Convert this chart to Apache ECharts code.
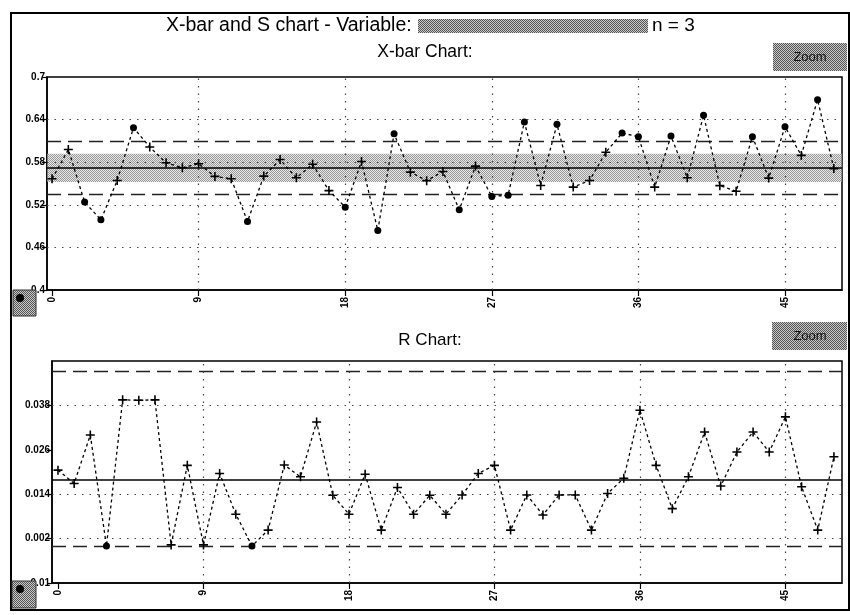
<!DOCTYPE html>
<html>
<head>
<meta charset="utf-8">
<script src="https://cdn.jsdelivr.net/npm/echarts@6/dist/echarts.min.js"></script>
<style>
  html, body { margin: 0; padding: 0; background: #fff; }
  #chart { width: 850px; height: 615px; }
</style>
</head>
<body>
<div id="chart"></div>
<script>
// sample numbers (x axis)
const samples = [0, 1, 2, 3, 4, 5, 6, 7, 8, 9, 10, 11, 12, 13, 14, 15, 16, 17, 18, 19, 20, 21, 22, 23, 24,
  25, 26, 27, 28, 29, 30, 31, 32, 33, 34, 35, 36, 37, 38, 39, 40, 41, 42, 43, 44, 45, 46, 47, 48];

// X-bar values per sample
const xbarValues = [0.5566, 0.598, 0.5238, 0.4988, 0.5543, 0.6286, 0.6013, 0.5792, 0.5722, 0.5778,
  0.560, 0.5566, 0.4965, 0.5604, 0.5837, 0.558, 0.577, 0.540, 0.5167, 0.581,
  0.4838, 0.620, 0.566, 0.554, 0.567, 0.513, 0.5745, 0.5317, 0.5335, 0.6366,
  0.5473, 0.6333, 0.5449, 0.5543, 0.594, 0.621, 0.616, 0.5449, 0.6168, 0.558,
  0.646, 0.547, 0.539, 0.616, 0.5576, 0.630, 0.5896, 0.668, 0.571];

// R (range) values per sample
const rangeValues = [0.0205, 0.0169, 0.030, 0, 0.0395, 0.0394, 0.0395, 0.0003, 0.0218, 0.0003,
  0.0196, 0.0086, 0, 0.0043, 0.0219, 0.0187, 0.0335, 0.0137, 0.0086, 0.0194,
  0.0043, 0.0158, 0.0086, 0.0137, 0.0086, 0.0138, 0.0196, 0.0218, 0.0043, 0.0138,
  0.0084, 0.0138, 0.0138, 0.0043, 0.0142, 0.0183, 0.0367, 0.0218, 0.0101, 0.0187,
  0.0308, 0.0162, 0.0254, 0.0308, 0.0254, 0.0349, 0.0160, 0.0043, 0.0241];

// control limits
const xbarLimits = { ucl: 0.610, cl: 0.572, lcl: 0.535 };
const xbarZone = [0.552, 0.592];
const rangeLimits = { ucl: 0.0471, cl: 0.0178, lcl: 0 };

// tick labels
const xTicks = [0, 9, 18, 27, 36, 45];
const xbarTicks = [0.4, 0.46, 0.52, 0.58, 0.64, 0.7];
const rangeTicks = [-0.01, 0.002, 0.014, 0.026, 0.038];
const xbarGridY = [0.46, 0.52, 0.58, 0.64];
const rangeGridY = [0.002, 0.014, 0.038];
const gridX = [9, 18, 27, 36, 45];

const FONT = '"Liberation Sans", Arial, sans-serif';
const CROSS = 'path://M3.3,0H4.7V3.3H8V4.7H4.7V8H3.3V4.7H0V3.3H3.3Z';

function stipple(dark, light) {
  const c = document.createElement('canvas');
  c.width = 2; c.height = 2;
  const g = c.getContext('2d');
  g.fillStyle = light; g.fillRect(0, 0, 2, 2);
  g.fillStyle = dark; g.fillRect(0, 0, 1, 1); g.fillRect(1, 1, 1, 1);
  return { image: c, repeat: 'repeat' };
}

const grayPat = stipple('#555', '#c8c8c8');
const bandPat = stipple('rgba(90,90,90,0.55)', 'rgba(215,215,215,0.6)');

function limitLines(lim, gy) {
  const dashed = { type: [14, 7], color: '#222', width: 1.4 };
  const dots = { type: [1.5, 6], color: '#444', width: 1.2 };
  const out = [
    { yAxis: lim.ucl, lineStyle: dashed },
    { yAxis: lim.cl, lineStyle: { type: 'solid', color: '#000', width: 1.5 } },
    { yAxis: lim.lcl, lineStyle: dashed }
  ];
  gy.forEach(v => out.push({ yAxis: v, lineStyle: dots }));
  gridX.forEach(v => out.push({ xAxis: v, lineStyle: dots }));
  return out;
}

function makeSeries(values, lim, axisIdx, gy, zone) {
  const isOut = v => v >= lim.ucl || v <= lim.lcl;
  const s = {
    type: 'line',
    xAxisIndex: axisIdx,
    yAxisIndex: axisIdx,
    data: values.map((v, i) => [samples[i], v]),
    showAllSymbol: true,
    symbol: val => isOut(val[1]) ? 'circle' : CROSS,
    symbolSize: val => isOut(val[1]) ? 7 : 9,
    itemStyle: { color: '#000' },
    lineStyle: { color: '#000', width: 1.3, type: [3, 3] },
    z: 5,
    markLine: {
      silent: true,
      precision: 6,
      symbol: ['none', 'none'],
      label: { show: false },
      data: limitLines(lim, gy)
    }
  };
  if (zone) {
    s.markArea = {
      silent: true,
      precision: 6,
      itemStyle: { color: bandPat },
      data: [[{ yAxis: zone[0] }, { yAxis: zone[1] }]]
    };
  }
  return s;
}

function xAxisFor(idx, min) {
  return {
    type: 'value', gridIndex: idx, min: min, max: 48.5,
    axisLine: { show: true, onZero: false, lineStyle: { color: '#000', width: 1.5 } },
    axisTick: { show: true, customValues: xTicks, length: 6, lineStyle: { color: '#000', width: 1.2 } },
    axisLabel: { customValues: xTicks, rotate: 90, margin: 7, fontSize: 10, fontWeight: 'bold',
      fontFamily: FONT, color: '#000' },
    splitLine: { show: false }
  };
}

function yAxisFor(idx, min, max, ticks) {
  return {
    type: 'value', gridIndex: idx, min: min, max: max,
    axisLine: { show: true, onZero: false, lineStyle: { color: '#000', width: 1.5 } },
    axisTick: { show: true, customValues: ticks, length: 5, lineStyle: { color: '#000', width: 1.2 } },
    axisLabel: { customValues: ticks, margin: 2, fontSize: 10, fontWeight: 'bold',
      fontFamily: FONT, color: '#000' },
    splitLine: { show: false }
  };
}

const chart = echarts.init(document.getElementById('chart'), null, { renderer: 'canvas' });

const option = {
  animation: false,
  backgroundColor: '#fff',
  grid: [
    { left: 47, right: 8, top: 77, bottom: 325, show: true, borderColor: '#000', borderWidth: 1.5 },
    { left: 52, right: 8, top: 361, bottom: 32, show: true, borderColor: '#000', borderWidth: 1.5 }
  ],
  xAxis: [xAxisFor(0, -0.31), xAxisFor(1, -0.37)],
  yAxis: [
    yAxisFor(0, 0.4, 0.7, xbarTicks),
    yAxisFor(1, -0.01, 0.05, rangeTicks)
  ],
  series: [
    makeSeries(xbarValues, xbarLimits, 0, xbarGridY, xbarZone),
    makeSeries(rangeValues, rangeLimits, 1, rangeGridY, null)
  ],
  graphic: [
    // window frame
    { type: 'rect', shape: { x: 11, y: 13, width: 838, height: 597 },
      style: { fill: 'none', stroke: '#000', lineWidth: 2 }, z: 20 },
    // main title
    { type: 'text', x: 166, y: 26, style: { text: 'X-bar and S chart - Variable:', font: '19.5px ' + FONT,
      fill: '#000', verticalAlign: 'middle' } },
    { type: 'rect', shape: { x: 418, y: 19, width: 230, height: 14 }, style: { fill: grayPat } },
    { type: 'text', x: 652, y: 26, style: { text: 'n = 3', font: '19px ' + FONT, fill: '#000',
      verticalAlign: 'middle' } },
    // panel titles
    { type: 'text', x: 425, y: 52, style: { text: 'X-bar Chart:', font: '17.5px ' + FONT, fill: '#000',
      align: 'center', verticalAlign: 'middle' } },
    { type: 'text', x: 430, y: 340, style: { text: 'R Chart:', font: '17px ' + FONT, fill: '#000',
      align: 'center', verticalAlign: 'middle' } },
    // zoom buttons
    { type: 'rect', shape: { x: 773, y: 43, width: 74, height: 28 }, style: { fill: grayPat } },
    { type: 'text', x: 810, y: 57, style: { text: 'Zoom', font: '13px ' + FONT, fill: '#111',
      align: 'center', verticalAlign: 'middle' } },
    { type: 'rect', shape: { x: 772, y: 322, width: 75, height: 28 }, style: { fill: grayPat } },
    { type: 'text', x: 810, y: 336, style: { text: 'Zoom', font: '13px ' + FONT, fill: '#111',
      align: 'center', verticalAlign: 'middle' } },
    // small corner icons
    { type: 'rect', shape: { x: 13, y: 290, width: 23, height: 26 }, style: { fill: grayPat, stroke: '#333' }, z: 21 },
    { type: 'circle', shape: { cx: 20, cy: 298, r: 4 }, style: { fill: '#000' }, z: 22 },
    { type: 'rect', shape: { x: 12, y: 581, width: 24, height: 27 }, style: { fill: grayPat, stroke: '#333' }, z: 21 },
    { type: 'circle', shape: { cx: 20, cy: 589, r: 4 }, style: { fill: '#000' }, z: 22 }
  ]
};

chart.setOption(option);
</script>
</body>
</html>
